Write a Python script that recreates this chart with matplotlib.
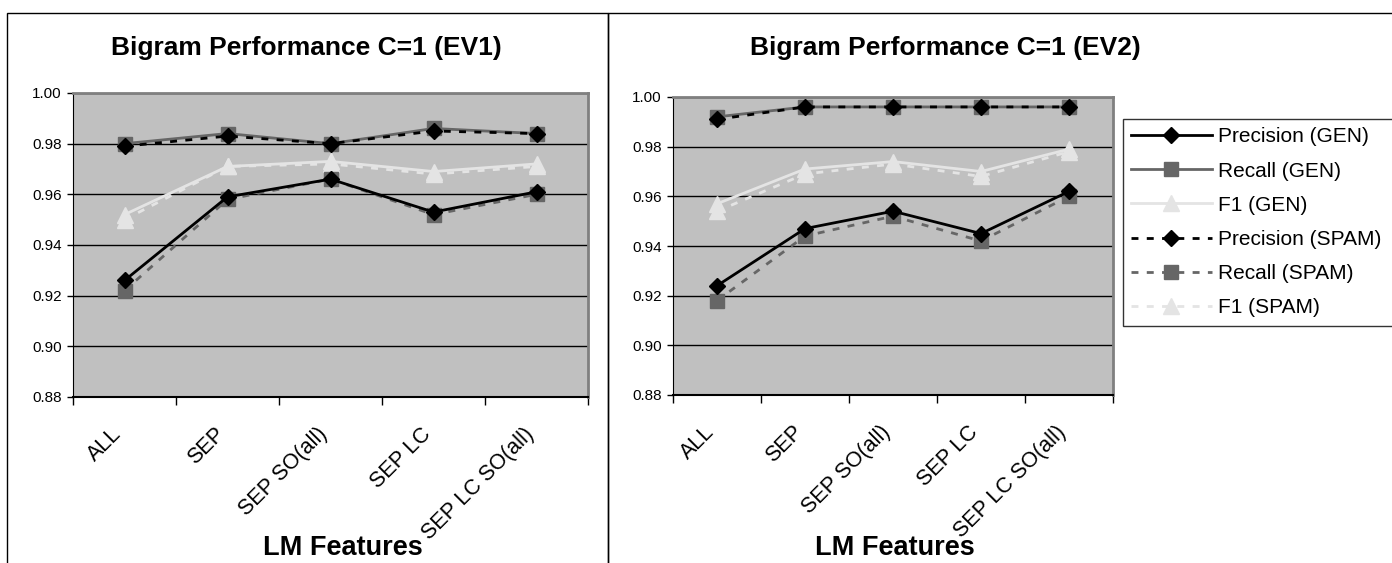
import matplotlib
matplotlib.use('Agg')
import matplotlib.pyplot as plt
import matplotlib.transforms as mtransforms
from matplotlib.lines import Line2D
from matplotlib.patches import Rectangle

plt.rcParams['font.family'] = ['Liberation Sans', 'DejaVu Sans']

categories = ['ALL', 'SEP', 'SEP SO(all)', 'SEP LC', 'SEP LC SO(all)']
yticks = [0.88, 0.90, 0.92, 0.94, 0.96, 0.98, 1.00]

# EV1
ev1_prec_gen = [0.926, 0.959, 0.966, 0.953, 0.961]
ev1_rec_gen = [0.980, 0.984, 0.980, 0.986, 0.984]
ev1_f1_gen = [0.952, 0.971, 0.973, 0.969, 0.972]
ev1_prec_spam = [0.979, 0.983, 0.980, 0.985, 0.984]
ev1_rec_spam = [0.922, 0.958, 0.966, 0.952, 0.960]
ev1_f1_spam = [0.950, 0.971, 0.972, 0.968, 0.971]

# EV2
ev2_prec_gen = [0.924, 0.947, 0.954, 0.945, 0.962]
ev2_rec_gen = [0.992, 0.996, 0.996, 0.996, 0.996]
ev2_f1_gen = [0.957, 0.971, 0.974, 0.970, 0.979]
ev2_prec_spam = [0.991, 0.996, 0.996, 0.996, 0.996]
ev2_rec_spam = [0.918, 0.944, 0.952, 0.942, 0.960]
ev2_f1_spam = [0.954, 0.969, 0.973, 0.968, 0.978]

names = ['Precision (GEN)', 'Recall (GEN)', 'F1 (GEN)',
         'Precision (SPAM)', 'Recall (SPAM)', 'F1 (SPAM)']

BLACK = '#000000'
GRAY = '#666666'
LIGHT = '#e4e4e4'
DASH = (0, (2.5, 3))
styles = [
    dict(color=BLACK, ls='-', marker='D', mfc=BLACK, mec=BLACK, ms=8.5),
    dict(color=GRAY, ls='-', marker='s', mfc=GRAY, mec=GRAY, ms=10),
    dict(color=LIGHT, ls='-', marker='^', mfc=LIGHT, mec=LIGHT, ms=11),
    dict(color=BLACK, ls=DASH, marker='D', mfc=BLACK, mec=BLACK, ms=8.5),
    dict(color=GRAY, ls=DASH, marker='s', mfc=GRAY, mec=GRAY, ms=10),
    dict(color=LIGHT, ls=DASH, marker='^', mfc=LIGHT, mec=LIGHT, ms=11),
]
# F1 first, dark series last so they sit on top
order = [5, 2, 4, 1, 3, 0]

fig = plt.figure(figsize=(13.92, 5.63), dpi=100)
W, H = 1392, 563


def make_axes(px_left, px_right, px_top, px_bottom):
    return fig.add_axes([px_left / W, 1 - px_bottom / H,
                         (px_right - px_left) / W, (px_bottom - px_top) / H])


def draw_panel(ax, series, title, title_x, xlabel_x):
    ax.set_facecolor('#c0c0c0')
    x = list(range(len(categories)))
    for i in order:
        ax.plot(x, series[i], lw=2, zorder=3 + (i in (0, 3)), clip_on=False,
                **styles[i])
    ax.set_xlim(-0.5, len(categories) - 0.5)
    ax.set_ylim(0.88, 1.00)
    ax.set_yticks(yticks)
    ax.set_yticklabels(['%.2f' % v for v in yticks], fontsize=11)
    ax.yaxis.grid(True, color=BLACK, lw=1)
    ax.set_axisbelow(True)
    ax.set_xticks([i + 0.5 for i in range(-1, len(categories))])
    ax.set_xticklabels([])
    ax.tick_params(axis='x', length=6, direction='out', width=1)
    ax.tick_params(axis='y', length=4, direction='out', width=1, pad=4)

    # slanted category names under the axis
    base = mtransforms.blended_transform_factory(ax.transData, ax.transAxes)
    lab_tr = mtransforms.offset_copy(base, fig=fig, x=-2, y=-38, units='dots')
    for i, c in enumerate(categories):
        ax.text(i, 0, c, transform=lab_tr, rotation=45, ha='right',
                va='baseline', rotation_mode='anchor', fontsize=15.5)

    for side in ('top', 'right'):
        ax.spines[side].set_color('#808080')
        ax.spines[side].set_linewidth(2)
    ax.spines['left'].set_color(BLACK)
    ax.spines['bottom'].set_color(BLACK)
    ax.spines['bottom'].set_linewidth(1.5)
    fig.text(title_x / W, 1 - 55 / H, title, ha='center', va='baseline',
             fontsize=19, fontweight='bold')
    fig.text(xlabel_x / W, 1 - 555 / H, 'LM Features', ha='center',
             va='baseline', fontsize=19.5, fontweight='bold')


ax1 = make_axes(73, 588, 93, 397)
draw_panel(ax1, [ev1_prec_gen, ev1_rec_gen, ev1_f1_gen,
                 ev1_prec_spam, ev1_rec_spam, ev1_f1_spam],
           'Bigram Performance C=1 (EV1)', 306, 343)

ax2 = make_axes(673, 1113, 97, 395)
draw_panel(ax2, [ev2_prec_gen, ev2_rec_gen, ev2_f1_gen,
                 ev2_prec_spam, ev2_rec_spam, ev2_f1_spam],
           'Bigram Performance C=1 (EV2)', 945, 895)

handles = [Line2D([], [], lw=2, **styles[i]) for i in range(6)]
leg = fig.legend(handles, names, loc='upper left', mode='expand',
                 bbox_to_anchor=(1123 / W, 0, 330 / W, 1 - 119 / H),
                 fontsize=15, frameon=True, fancybox=False,
                 handlelength=3.85, handletextpad=0.3, labelspacing=0.73,
                 borderpad=0.4, borderaxespad=0)
leg.get_frame().set_edgecolor(BLACK)
leg.get_frame().set_linewidth(1)

# chart frames
fig.add_artist(Rectangle((7 / W, -0.1), (608 - 7) / W, 1.1 - 13 / H,
                         transform=fig.transFigure, fill=False, ec=BLACK, lw=1))
fig.add_artist(Rectangle((608 / W, -0.1), 1.0, 1.1 - 13 / H,
                         transform=fig.transFigure, fill=False, ec=BLACK, lw=1))

fig.savefig('out.png', dpi=100)
